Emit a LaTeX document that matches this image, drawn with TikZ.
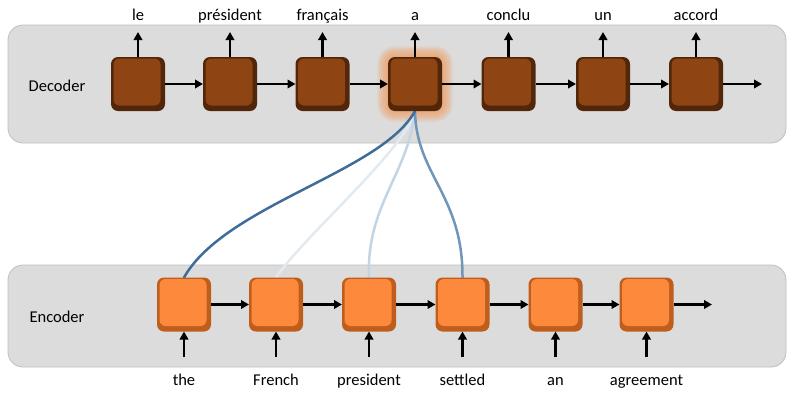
\documentclass[tikz,border=0pt]{standalone}
\usepackage{fontspec}
\setmainfont{Carlito}
\usetikzlibrary{arrows.meta,calc}
\pgfdeclarelayer{back}
\pgfdeclarelayer{mid}
\pgfsetlayers{back,mid,main}
\definecolor{panelgray}{HTML}{DCDCDC}
\definecolor{panelline}{HTML}{BEBEBE}
\definecolor{decmain}{HTML}{8E4413}
\definecolor{decdark}{HTML}{52260A}
\definecolor{encmain}{HTML}{FD8A3C}
\definecolor{encdark}{HTML}{BF5E1C}
\definecolor{glowc}{HTML}{F7954F}
\definecolor{attA}{HTML}{3F6D99}
\definecolor{attB}{HTML}{E2EAF1}
\definecolor{attC}{HTML}{C3D4E3}
\definecolor{attD}{HTML}{7095B9}
\begin{document}
\begin{tikzpicture}[x=1pt,y=-1pt,
  font=\fontsize{16.5}{18}\selectfont,
  panel/.style={fill=panelgray, draw=panelline, line width=0.8pt, rounded corners=15pt, inner sep=0pt, outer sep=0pt},
  decbox/.style={fill=decdark, rounded corners=7pt, minimum size=54pt, inner sep=0pt, outer sep=0pt},
  encbox/.style={fill=encdark, rounded corners=7pt, minimum size=54pt, inner sep=0pt, outer sep=0pt},
  arr/.style={-{Triangle[length=8pt,width=8.5pt]}, line width=2.3pt, black},
  outlbl/.style={anchor=base, text height=12pt, text depth=4pt, inner sep=0pt, outer ysep=8pt},
  inlbl/.style={anchor=base, text height=12pt, text depth=4pt, inner sep=0pt, outer ysep=16pt},
  att/.style={line width=2.5pt, line cap=round}
]
\useasboundingbox (0,0) rectangle (787,397);

% panels
\begin{pgfonlayer}{back}
\node[panel, minimum width=778pt, minimum height=118pt] (decpanel) at (397,84) {};
\node[panel, minimum width=778pt, minimum height=102pt] (encpanel) at (397,316) {};
\end{pgfonlayer}

\node[anchor=base] (declbl) at (57,91.5) {Decoder};
\node[anchor=base] (enclbl) at (57,322) {Encoder};

% decoder boxes
\node[decbox] (d1) at (138,84) {};
\node[decbox] (d2) at (230,84) {};
\node[decbox] (d3) at (322.5,84) {};
\node[decbox] (d4) at (415,84) {};
\node[decbox] (d5) at (508.5,84) {};
\node[decbox] (d6) at (603,84) {};
\node[decbox] (d7) at (696,84) {};
\foreach \n in {d1,d2,d3,d4,d5,d6,d7}
  \fill[decmain, rounded corners=6pt] ($(\n.north west)+(2.5,1.5)$) rectangle ($(\n.south east)+(-4.5,-5.5)$);

% encoder boxes
\node[encbox] (e1) at (184,304.5) {};
\node[encbox] (e2) at (276,304.5) {};
\node[encbox] (e3) at (369,304.5) {};
\node[encbox] (e4) at (462.5,304.5) {};
\node[encbox] (e5) at (555.5,304.5) {};
\node[encbox] (e6) at (646.5,304.5) {};
\foreach \n in {e1,e2,e3,e4,e5,e6}
  \fill[encmain, rounded corners=6pt] ($(\n.north west)+(2.5,1.5)$) rectangle ($(\n.south east)+(-4.5,-5.5)$);

% glow around the active decoder cell
\begin{pgfonlayer}{mid}
\foreach \i in {1,...,11}{
  \pgfmathsetmacro{\rc}{7+\i}
  \fill[glowc, opacity=0.085, rounded corners=\rc pt] ($(d4.north west)+(-\i,-\i)$) rectangle ($(d4.south east)+(\i,\i)$);
}
% attention curves
\draw[att, attB] (d4.south) .. controls (405,150) and (305,235) .. (e2.north);
\draw[att, attC] (d4.south) .. controls (408,175) and (366,205) .. (e3.north);
\draw[att, attD] (d4.south) .. controls (416,175) and (463,195) .. (e4.north);
\draw[att, attA] (d4.south) .. controls (382,172) and (225,205) .. (e1.north);
\end{pgfonlayer}

% output labels
\node[outlbl] (o1) at (138,20) {le};
\node[outlbl] (o2) at (230,20) {président};
\node[outlbl] (o3) at (322.5,20) {français};
\node[outlbl] (o4) at (415,20) {a};
\node[outlbl] (o5) at (508.5,20) {conclu};
\node[outlbl] (o6) at (603,20) {un};
\node[outlbl] (o7) at (696,20) {accord};

% input labels
\node[inlbl] (i1) at (184,385) {the};
\node[inlbl] (i2) at (276,385) {French};
\node[inlbl] (i3) at (369,385) {president};
\node[inlbl] (i4) at (462.5,385) {settled};
\node[inlbl] (i5) at (555.5,385) {an};
\node[inlbl] (i6) at (646.5,385) {agreement};

\coordinate (dend) at (762,84);
\coordinate (eend) at (712,304.5);

% decoder arrows
\foreach \n in {1,...,7} \draw[arr] (d\n.north) -- (o\n.south);
\draw[arr] (d1) -- (d2);
\draw[arr] (d2) -- (d3);
\draw[arr] (d3) -- (d4);
\draw[arr] (d4) -- (d5);
\draw[arr] (d5) -- (d6);
\draw[arr] (d6) -- (d7);
\draw[arr] (d7) -- (dend);

% encoder arrows
\foreach \n in {1,...,6} \draw[arr] (i\n.north) -- (e\n.south);
\draw[arr] (e1) -- (e2);
\draw[arr] (e2) -- (e3);
\draw[arr] (e3) -- (e4);
\draw[arr] (e4) -- (e5);
\draw[arr] (e5) -- (e6);
\draw[arr] (e6) -- (eend);
\end{tikzpicture}
\end{document}
